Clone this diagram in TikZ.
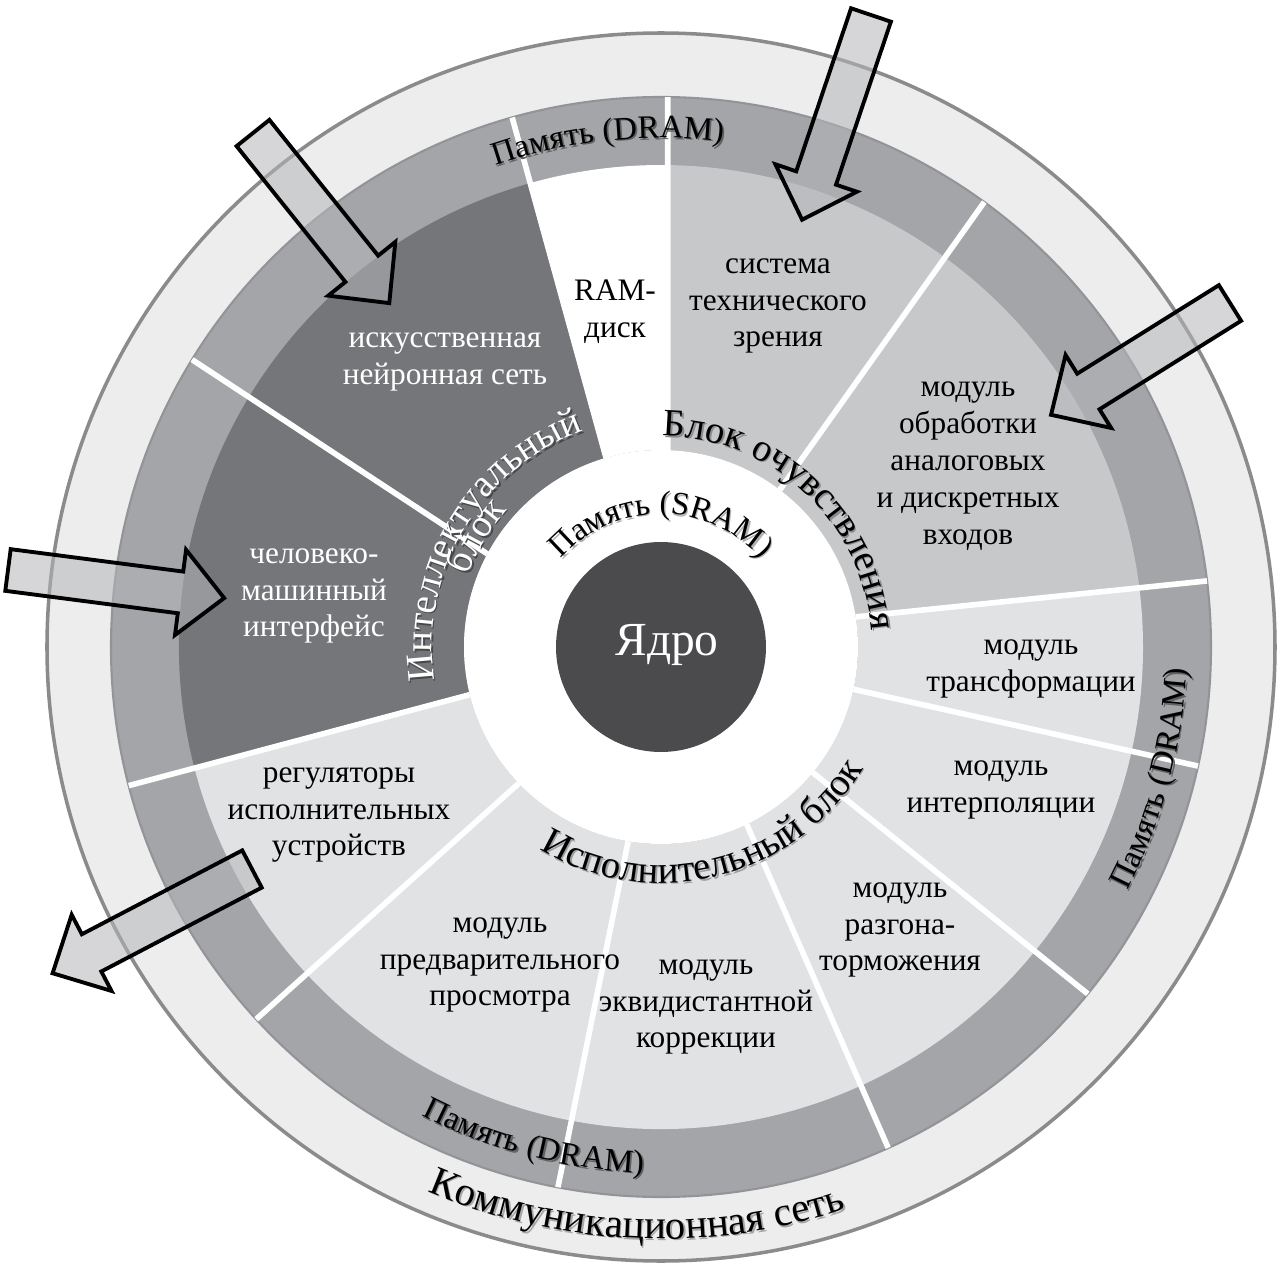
\documentclass[tikz,border=0pt]{standalone}
\usepackage{fontspec}
\setmainfont{Liberation Serif}
\newfontfamily\ringserif{Liberation Serif}
\usepackage{tikz}
\usetikzlibrary{decorations.text}

\definecolor{netgrey}{HTML}{EDEDEE}
\definecolor{netline}{HTML}{8B8B8E}
\definecolor{dramgrey}{HTML}{A4A5A9}
\definecolor{dramline}{HTML}{939498}
\definecolor{intelgrey}{HTML}{75767A}
\definecolor{sensegrey}{HTML}{C7C8CA}
\definecolor{execgrey}{HTML}{E1E2E4}
\definecolor{coregrey}{HTML}{4B4B4E}
\definecolor{arrowgrey}{HTML}{B4B5B8}

\newcommand{\modfont}{\fontsize{8.9}{10.5}\selectfont}
\newcommand{\memfont}{\ringserif\fontsize{9.3}{11}\selectfont}
\newcommand{\blkfont}{\ringserif\fontsize{11}{13}\selectfont}
\newcommand{\netfont}{\ringserif\fontsize{11.6}{14}\selectfont}

% curved label with a drop shadow: colour, shadow, radius, start, end, text
\newcommand{\ringlabel}[6]{%
  \path[decorate, decoration={text along path, text align=center,
      text color=#2, text={#6}}]
    ([shift={(1.6,-1.6)}]#4:#3) arc[start angle=#4, end angle=#5, radius=#3];
  \path[decorate, decoration={text along path, text align=center,
      text color=#1, text={#6}}]
    (#4:#3) arc[start angle=#4, end angle=#5, radius=#3];
}

% block arrow: tail point, direction, length
\newcommand{\blockarrow}[3]{%
  \begin{scope}[shift={#1}, rotate=#2]
    \draw[bigarrow] (0,-21) -- ({#3-44},-21) -- ({#3-44},-43) -- (#3,0)
      -- ({#3-44},43) -- ({#3-44},21) -- (0,21) -- cycle;
  \end{scope}}

\begin{document}
\begin{tikzpicture}[x=0.01cm, y=0.01cm,
  modtext/.style={align=center, font=\modfont},
  sep/.style={white, line width=1.6pt},
  bigarrow/.style={draw=black, line width=1.1pt, fill=arrowgrey,
    fill opacity=0.55, line join=miter}]
\useasboundingbox (-661,-616) rectangle (623,647);

% communication ring and DRAM ring
\draw[netline, line width=1pt, fill=netgrey] (0,0) circle[radius=614];
\fill[dramgrey] (0,0) circle[radius=550];
\draw[dramline, line width=0.6pt] (0,0) circle[radius=550];

% blocks: inner angles, outer angles, colour
\foreach \ia/\ib/\oa/\ob/\c in {106.2/194/105.7/194.6/intelgrey,
    -166/8.8/-165.4/6.9/execgrey, 8.8/88/6.9/89.3/sensegrey,
    88/106.2/89.3/105.7/white}
  \fill[\c] (\ia:197) -- (\oa:482) arc[start angle=\oa, end angle=\ob, radius=482]
    -- (\ib:197) arc[start angle=\ib, end angle=\ia, radius=197] -- cycle;
\fill[white] (0,0) circle[radius=197];

% separators between modules
\foreach \a/\b in {106.2/105.7, 88/89.3, 52.9/54, 8.8/6.9, -12.4/-12.5,
    -39.6/-39.1, -64.2/-65.6, -99.6/-100.8, -136.2/-137.4, -166/-165.4,
    151.8/148.5}
  \draw[sep] (\a:197) -- (\b:550);

% core
\fill[coregrey] (0,0) circle[radius=105];
\node[font=\fontsize{13.5}{15}\selectfont, text=white] (core) at (6,2) {Ядро};

% modules
\node[modtext] (ramdisk) at (-46,335) {RAM-\\диск};
\node[modtext, text=white] (neuro) at (-216,285) {искусственная\\нейронная сеть};
\node[modtext, text=white] (hmi) at (-347,51) {человеко-\\машинный\\интерфейс};
\node[modtext] (vision) at (117,341) {система\\технического\\зрения};
\node[modtext] (inputs) at (307,181) {модуль\\обработки\\аналоговых\\и дискретных\\входов};
\node[modtext] (transform) at (370,-22) {модуль\\трансформации};
\node[modtext] (interp) at (340,-143) {модуль\\интерполяции};
\node[modtext] (accel) at (239,-283) {модуль\\разгона-\\торможения};
\node[modtext] (offset) at (45,-360) {модуль\\эквидистантной\\коррекции};
\node[modtext] (preview) at (-161,-318) {модуль\\предварительного\\просмотра};
\node[modtext] (drives) at (-322,-168) {регуляторы\\исполнительных\\устройств};

% curved labels
\ringlabel{black}{black!45}{211}{97}{-3}{|\blkfont|Блок очувствления}
\ringlabel{black}{black!38}{236}{-140}{-12}{|\blkfont|Исполнительный блок}
\ringlabel{black}{black!30}{133}{160}{20}{|\memfont|Память (SRAM)}
\ringlabel{black}{black!62}{509}{120}{72}{|\memfont|Память (DRAM)}
\ringlabel{black}{black!62}{526}{-40}{10}{|\memfont|Память (DRAM)}
\ringlabel{black}{black!62}{526}{-130}{-79}{|\memfont|Память (DRAM)}
\ringlabel{black}{black!35}{592}{-125}{-60}{|\netfont|Коммуникационная сеть}
\ringlabel{white}{black!72}{229}{200}{98}{|\blkfont|Интеллектуальный}
\ringlabel{white}{black!72}{206}{170}{128}{|\blkfont|блок}

% inputs and output
\blockarrow{(-408,514)}{-51.3}{218}
\blockarrow{(210,632)}{-108.6}{216}
\blockarrow{(569,344)}{-148}{211}
\blockarrow{(-653,77)}{-7.4}{218}
\blockarrow{(-409,-222)}{-152.4}{225}
\end{tikzpicture}
\end{document}
